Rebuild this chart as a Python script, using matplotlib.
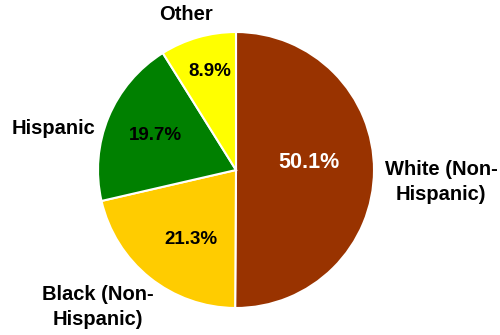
import matplotlib.pyplot as plt

plt.rcParams['font.family'] = ['Liberation Sans', 'DejaVu Sans']

groups = ['White (Non-\nHispanic)', 'Black (Non-\nHispanic)', 'Hispanic', 'Other']
shares = [50.1, 21.3, 19.7, 8.9]
colors = ['#993300', '#FFCC00', '#008000', '#FFFF00']

H = 335

fig = plt.figure(figsize=(5.0, 3.35), dpi=100)
ax = fig.add_axes([0, 0, 1, 1])

wedges, texts, autotexts = ax.pie(
    shares, colors=colors, labels=groups, startangle=90, counterclock=False,
    center=(236, H - 170), radius=138, autopct='%.1f%%', frame=True,
    wedgeprops=dict(edgecolor='white', linewidth=1.5),
    textprops=dict(fontweight='bold', fontsize=14.5),
)
ax.set_xlim(0, 500)
ax.set_ylim(0, H)
ax.set_aspect('equal')
ax.axis('off')

# label positions in pixels, measured from the top-left corner
label_pos = [(441, 182, 'center'), (98, 307, 'center'), (95, 128, 'right'), (186, 14, 'center')]
pct_pos = [(309, 163), (191, 239), (155, 135), (210, 72)]

for t, (x, y, ha) in zip(texts, label_pos):
    t.set_position((x, H - y))
    t.set_ha(ha)
    t.set_va('center')
    t.set_linespacing(1.45)

for t, (x, y) in zip(autotexts, pct_pos):
    t.set_position((x, H - y))
    t.set_ha('center')
    t.set_va('center')
    t.set_fontsize(13.5)

autotexts[0].set_color('white')
autotexts[0].set_fontsize(15.5)

fig.savefig('out.png', dpi=100, facecolor='white')
